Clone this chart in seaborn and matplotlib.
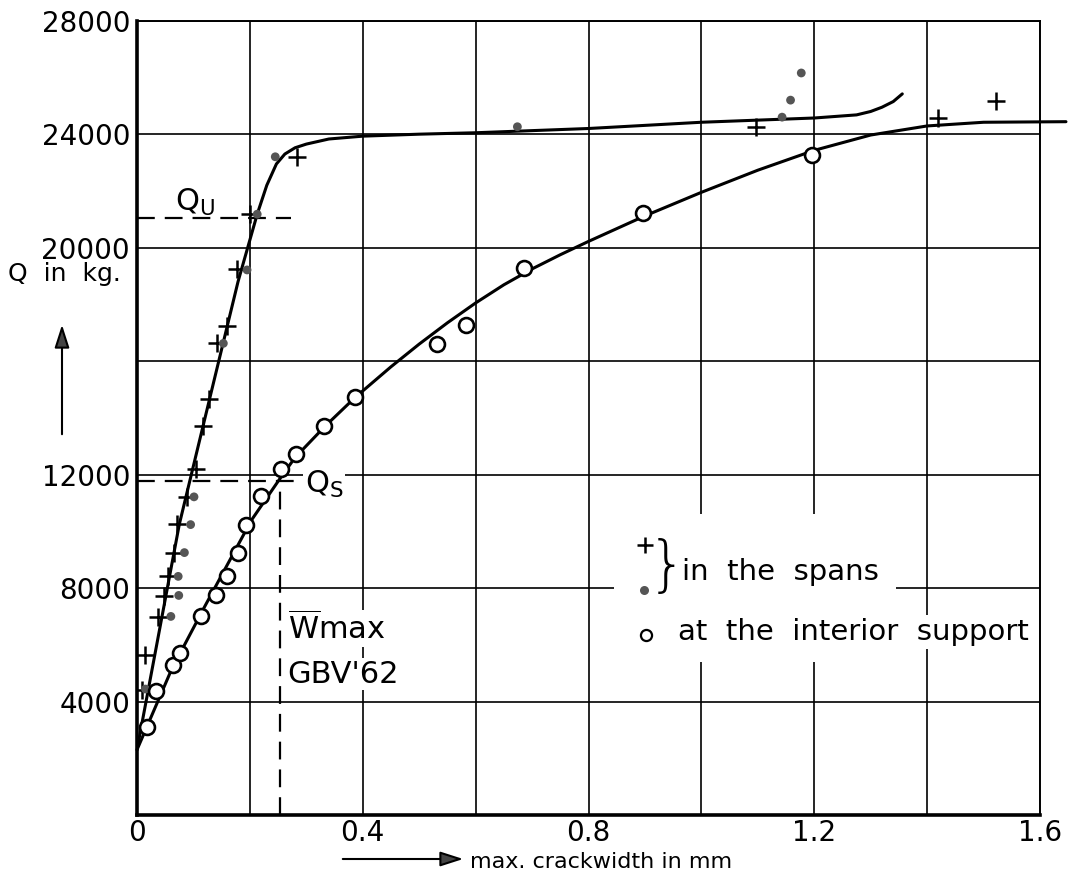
import matplotlib
matplotlib.use('Agg')
import matplotlib.pyplot as plt
import seaborn as sns
from matplotlib.patches import Rectangle

# measured crack widths (mm) and loads (kg) - in the spans
span_cross_w = [0.008, 0.015, 0.038, 0.048, 0.055, 0.066, 0.070, 0.088, 0.104, 0.117,
                0.128, 0.142, 0.160, 0.178, 0.200, 0.284, 1.097, 1.420, 1.522]
span_cross_q = [4400, 5640, 6980, 7710, 8410, 9240, 10250, 11215, 12214, 13707,
                14650, 16651, 17237, 19239, 21180, 23203, 24262, 24557, 25159]
span_dot_w = [0.015, 0.060, 0.074, 0.073, 0.084, 0.095, 0.101, 0.153, 0.195, 0.213,
              0.245, 0.674, 1.143, 1.158, 1.177]
span_dot_q = [4440, 7000, 7740, 8412, 9250, 10237, 11215, 16626, 19214, 21180,
              23203, 24262, 24600, 25200, 26157]

# measured points at the interior support
support_w = [0.017, 0.033, 0.063, 0.076, 0.114, 0.140, 0.160, 0.179, 0.194, 0.219,
             0.256, 0.281, 0.332, 0.386, 0.532, 0.583, 0.686, 0.896, 1.196]
support_q = [3110, 4380, 5300, 5720, 7030, 7770, 8430, 9220, 10240, 11260,
             12210, 12720, 13700, 14720, 16590, 17260, 19280, 21210, 23250]

# hand drawn mean curves
span_curve_w = [0, 0.075, 0.137, 0.179, 0.197, 0.213, 0.230, 0.247, 0.262, 0.280,
                0.300, 0.340, 0.400, 0.500, 0.600, 0.800, 1.000, 1.200, 1.275,
                1.300, 1.320, 1.340, 1.356]
span_curve_q = [2300, 10250, 15356, 18800, 20061, 21180, 22200, 22950, 23300, 23520,
                23650, 23830, 23930, 24000, 24050, 24200, 24420, 24570, 24680,
                24800, 24950, 25150, 25420]
support_curve_w = [0, 0.061, 0.120, 0.203, 0.253, 0.280, 0.333, 0.386, 0.450, 0.500,
                   0.550, 0.600, 0.650, 0.700, 0.750, 0.800, 0.900, 1.000, 1.100,
                   1.200, 1.300, 1.400, 1.500, 1.646]
support_curve_q = [2300, 5120, 7350, 10400, 11850, 12600, 13700, 14710, 15800, 16600,
                   17350, 18050, 18690, 19250, 19750, 20220, 21120, 21950, 22730,
                   23430, 23970, 24290, 24420, 24440]

# characteristic values
q_u = 21040
q_s = 11790
w_max = 0.253

x_ticks = [0, 0.2, 0.4, 0.6, 0.8, 1.0, 1.2, 1.4, 1.6]
x_labels = ['0', '', '0.4', '', '0.8', '', '1.2', '', '1.6']
y_ticks = [0, 4000, 8000, 12000, 16000, 20000, 24000, 28000]
y_labels = ['', '4000', '8000', '12000', '', '20000', '24000', '28000']

sns.set_style('white')
plt.rcParams['font.family'] = ['DejaVu Sans']
plt.rcParams['mathtext.default'] = 'regular'
plt.rcParams['text.color'] = 'black'
plt.rcParams['xtick.color'] = 'black'
plt.rcParams['ytick.color'] = 'black'

W, H = 1068, 894
fig = plt.figure(figsize=(W / 100, H / 100), dpi=100)
ax = fig.add_axes([137 / W, 1 - 815 / H, (1040 - 137) / W, (815 - 20.7) / H])

# curves
sns.lineplot(x=span_curve_w, y=span_curve_q, sort=False, estimator=None,
             color='black', lw=2.2, ax=ax, zorder=3)
sns.lineplot(x=support_curve_w, y=support_curve_q, sort=False, estimator=None,
             color='black', lw=2.2, ax=ax, zorder=3)
ax.lines[-1].set_clip_on(False)

# measured points
sns.scatterplot(x=span_cross_w, y=span_cross_q, marker='+', s=150, color='black',
                linewidths=1.8, ax=ax, zorder=4)
sns.scatterplot(x=span_dot_w, y=span_dot_q, marker='o', s=40, color='#555555',
                edgecolor='none', ax=ax, zorder=4)
sns.scatterplot(x=support_w, y=support_q, marker='o', s=115, color='white',
                edgecolor='black', linewidth=1.9, ax=ax, zorder=5)

# Qu, Qs and w_max
dash = (0, (8, 4.5))
ax.hlines(q_u, 0, 0.272, colors='black', lw=1.6, linestyles=dash, zorder=3)
ax.hlines(q_s, 0, 0.289, colors='black', lw=1.6, linestyles=dash, zorder=3)
ax.vlines(w_max, 0, 12700, colors='black', lw=1.6, linestyles=dash, zorder=3)

ax.text(0.067, 21300, '$Q_U$', fontsize=22, ha='left', va='baseline')
ax.text(0.297, 11350, '$Q_S$', fontsize=22, ha='left', va='baseline',
        bbox=dict(fc='white', ec='none', pad=1), zorder=2)
ax.text(0.267, 6180, r'$\overline{W}$max', fontsize=22, ha='left', va='baseline',
        bbox=dict(fc='white', ec='none', pad=1), zorder=2)
ax.text(0.267, 4660, "GBV'62", fontsize=22, ha='left', va='baseline',
        bbox=dict(fc='white', ec='none', pad=1), zorder=2)

# legend box
ax.add_patch(Rectangle((0.845, 5400), 0.5, 5200, fc='white', ec='none', zorder=1))
ax.plot([0.5626], [0.340], marker='+', ms=11, mew=1.8, color='black',
        transform=ax.transAxes, zorder=4)
ax.plot([0.5615], [0.283], marker='o', ms=6.5, color='#555555', mec='none',
        transform=ax.transAxes, zorder=4)
ax.plot([0.5637], [0.2266], marker='o', ms=8, mfc='white', mec='black', mew=1.6,
        transform=ax.transAxes, zorder=4)
ax.text(0.5655, 0.311, '}', fontsize=44, ha='left', va='center',
        transform=ax.transAxes, fontweight='light')
ax.text(0.603, 0.306, 'in  the  spans', fontsize=21, ha='left', va='center',
        transform=ax.transAxes, bbox=dict(fc='white', ec='none', pad=2), zorder=2)
ax.text(0.599, 0.2304, 'at  the  interior  support', fontsize=21, ha='left',
        va='center', transform=ax.transAxes,
        bbox=dict(fc='white', ec='none', pad=2), zorder=2)

# axes
ax.set_xlim(0, 1.6)
ax.set_ylim(0, 28000)
ax.set_xticks(x_ticks)
ax.set_xticklabels(x_labels)
ax.set_yticks(y_ticks)
ax.set_yticklabels(y_labels)
ax.tick_params(axis='x', length=0, pad=3, labelsize=20)
ax.tick_params(axis='y', length=0, pad=5, labelsize=20)
ax.grid(True, color='black', lw=1.2)
for side in ['left', 'bottom']:
    ax.spines[side].set_linewidth(2.6)
for side in ['top', 'right']:
    ax.spines[side].set_linewidth(1.4)
for sp in ax.spines.values():
    sp.set_color('black')

# axis labels with arrows
fig.text(8 / W, 1 - 274 / H, 'Q  in  kg.', fontsize=18, ha='left', va='center')
ax.annotate('', xy=(62 / W, 1 - 322 / H), xytext=(62 / W, 1 - 437 / H),
            xycoords='figure fraction', textcoords='figure fraction',
            arrowprops=dict(arrowstyle='-|>,head_length=1.4,head_width=0.45',
                            color='black', fc='#444444', lw=1.5))
fig.text(470 / W, 1 - 862 / H, 'max. crackwidth in mm', fontsize=16, ha='left',
         va='center')
ax.annotate('', xy=(466 / W, 1 - 859 / H), xytext=(340 / W, 1 - 859 / H),
            xycoords='figure fraction', textcoords='figure fraction',
            arrowprops=dict(arrowstyle='-|>,head_length=1.4,head_width=0.45',
                            color='black', fc='#444444', lw=1.5))

fig.savefig('out.png', dpi=100)
